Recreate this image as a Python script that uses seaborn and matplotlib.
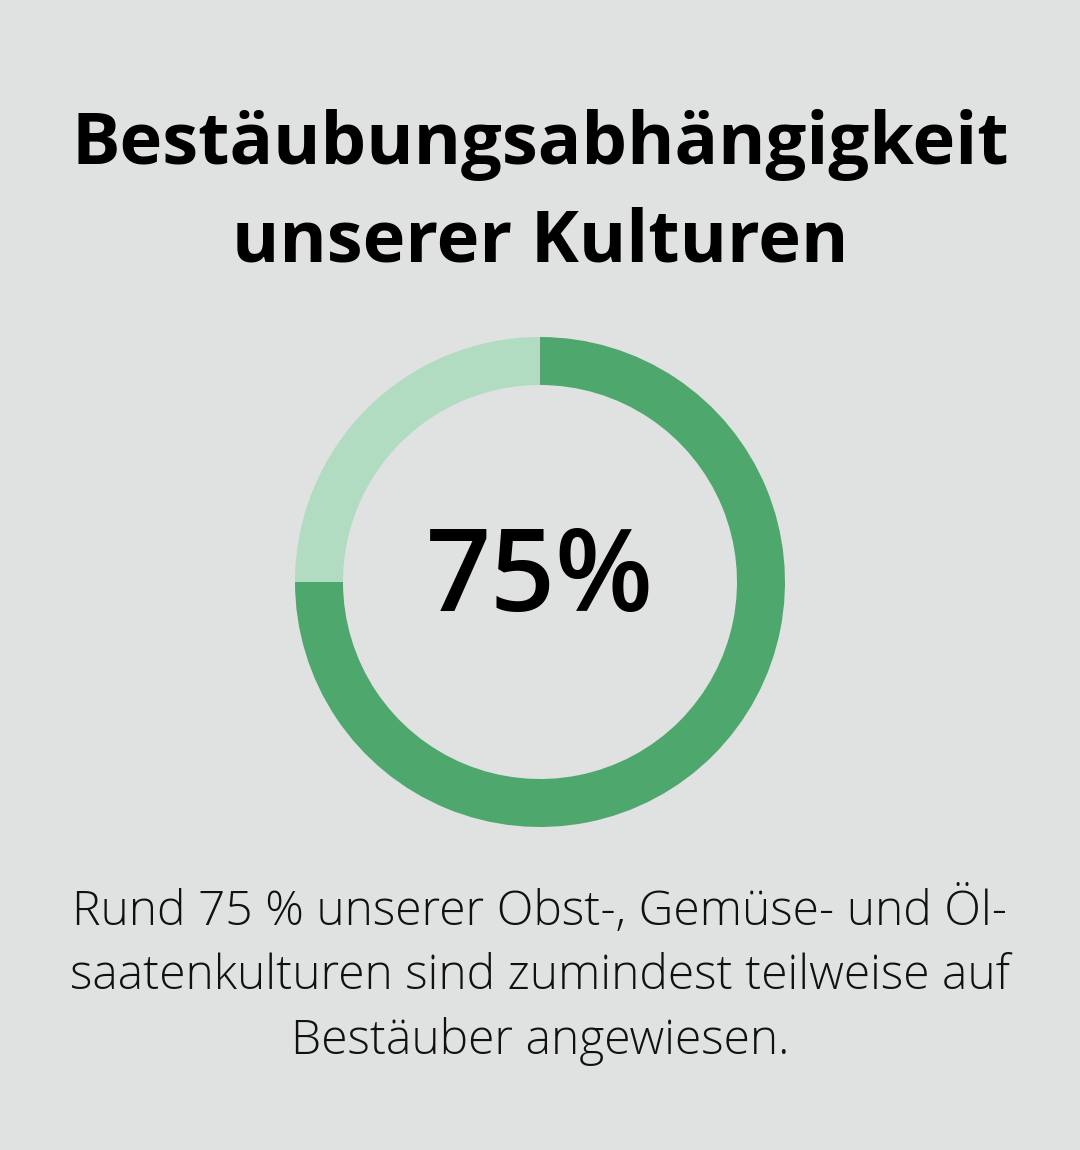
import matplotlib
matplotlib.use("Agg")
import matplotlib.pyplot as plt
import seaborn as sns

# Data
labels = ["Bestäubungsabhängig", "Sonstige"]
shares = [75, 25]
colors = ["#4EA86D", "#B1DCC2"]

title_lines = "Bestäubungsabhängigkeit\nunserer Kulturen"
center_label = "75%"
caption = ("Rund 75 % unserer Obst-, Gemüse- und Öl-\n"
           "saatenkulturen sind zumindest teilweise auf\n"
           "Bestäuber angewiesen.")

bg = "#E0E2E1"

sns.set_theme(style="white")
plt.rcParams["font.family"] = ["Open Sans", "DejaVu Sans"]

W, H = 1080, 1150
fig = plt.figure(figsize=(W / 100, H / 100), dpi=100, facecolor=bg)

# donut axes: centre (540, 582) px, outer radius 245 px
r = 245
cx, cy = 540, H - 582
ax = fig.add_axes([(cx - r) / W, (cy - r) / H, 2 * r / W, 2 * r / H])
ax.set_facecolor(bg)
ax.pie(shares, colors=colors, startangle=90, counterclock=False,
       radius=1.0, wedgeprops=dict(width=48 / r, linewidth=0))
ax.set_xlim(-1, 1)
ax.set_ylim(-1, 1)
ax.set_aspect("equal")
ax.axis("off")

ax.text(0, 0, center_label, ha="center", va="center", fontsize=82,
        fontweight="semibold", color="#000000")

fig.text(0.5, 1 - 194 / H, title_lines, ha="center", va="center",
         fontsize=52, fontweight="bold", linespacing=1.46, color="#000000")

fig.text(0.5, 1 - 977 / H, caption, ha="center", va="center",
         fontsize=34.6, fontweight="light", linespacing=1.43, color="#111111")

fig.savefig("out.png", dpi=100, facecolor=bg)
